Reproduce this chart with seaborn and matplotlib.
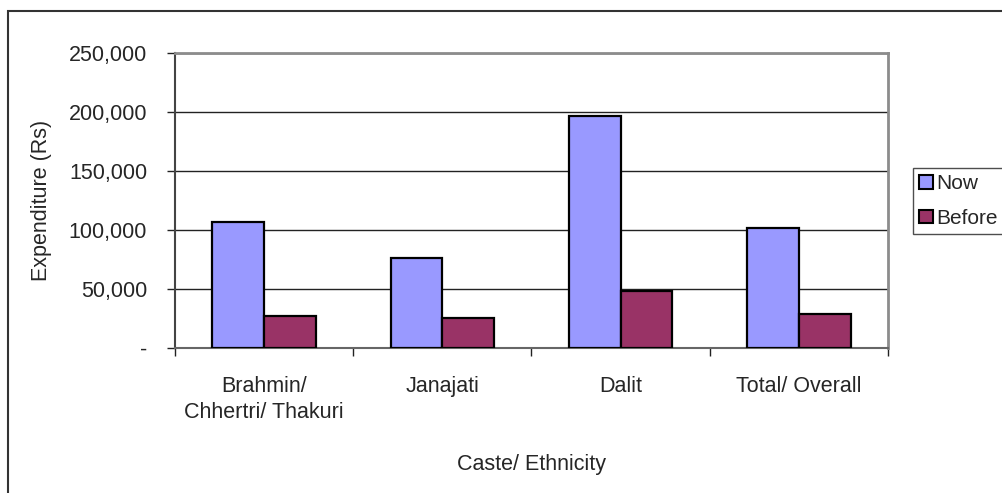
import matplotlib
matplotlib.use("Agg")
import matplotlib.pyplot as plt
from matplotlib import font_manager
from matplotlib.patches import Rectangle
from matplotlib.ticker import FixedLocator, FuncFormatter
import seaborn as sns
import pandas as pd

categories = ["Brahmin/\nChhertri/ Thakuri", "Janajati", "Dalit", "Total/ Overall"]
now_values = [107000, 75900, 196800, 101400]
before_values = [27500, 25800, 48400, 29200]
series_names = ["Now", "Before"]
y_ticks = [0, 50000, 100000, 150000, 200000, 250000]

sns.set_theme(style="white")

# Prefer a narrow sans if one is installed, else regular Liberation Sans
family, size = "Liberation Sans", 15.5
try:
    font_manager.findfont("Liberation Sans Narrow", fallback_to_default=False)
    family, size = "Liberation Sans Narrow", 17
except Exception:
    pass
plt.rcParams["font.family"] = [family, "DejaVu Sans"]
plt.rcParams["font.size"] = size

df = pd.DataFrame({
    "Caste": categories * 2,
    "Series": [series_names[0]] * len(categories) + [series_names[1]] * len(categories),
    "Expenditure": now_values + before_values,
})

fig = plt.figure(figsize=(10.03, 4.93), dpi=100)
ax = fig.add_axes([0.1745, 0.2941, 0.7108, 0.5984])

sns.barplot(data=df, x="Caste", y="Expenditure", hue="Series",
            palette=["#9999FF", "#993366"], saturation=1, width=0.58,
            edgecolor="black", linewidth=1.6, ax=ax, legend=True, zorder=3)

ax.set_ylim(0, 250000)
ax.set_xlim(-0.5, len(categories) - 0.5)
ax.yaxis.set_major_locator(FixedLocator(y_ticks))
ax.yaxis.set_major_formatter(FuncFormatter(lambda v, p: "-" if v == 0 else f"{int(v):,}"))
ax.grid(axis="y", color="#222222", linewidth=1.0, zorder=0)
ax.set_axisbelow(True)

# Category boundary ticks on the x axis
ax.set_xticks([i - 0.5 for i in range(len(categories) + 1)], minor=True)
ax.tick_params(axis="x", which="minor", direction="out", length=6, width=1.0,
               color="#222222", bottom=True)
ax.tick_params(axis="x", which="major", length=0, pad=20, labelsize=size)
ax.tick_params(axis="y", which="major", direction="out", length=6, width=1.0,
               color="#222222", left=True, pad=14, labelsize=size)
for lbl in ax.get_xticklabels():
    lbl.set_linespacing(1.35)

for side in ["top", "right"]:
    ax.spines[side].set_visible(True)
    ax.spines[side].set_color("#8c8c8c")
    ax.spines[side].set_linewidth(2.0)
ax.spines["left"].set_color("#444444")
ax.spines["left"].set_linewidth(1.5)
ax.spines["bottom"].set_color("#666666")
ax.spines["bottom"].set_linewidth(1.5)

ax.set_xlabel("Caste/ Ethnicity", fontsize=size, labelpad=22)
ax.set_ylabel("Expenditure (Rs)", fontsize=size, labelpad=12)

leg = ax.legend(loc="center left", bbox_to_anchor=(913 / 1003, 1 - 201 / 493),
                bbox_transform=fig.transFigure, frameon=True, fancybox=False,
                handlelength=0.65, handleheight=0.65, handletextpad=0.15,
                borderpad=0.3, borderaxespad=0, labelspacing=0.75,
                fontsize=size - 0.5)
leg.get_frame().set_edgecolor("#222222")
leg.get_frame().set_linewidth(1.0)
for h in leg.legend_handles:
    h.set_edgecolor("black")
    h.set_linewidth(1.5)

# Outer chart-area frame
fig.patches.append(Rectangle((8 / 1003, -0.05), 1.1, 1 - 11 / 493 + 0.05,
                             transform=fig.transFigure, fill=False,
                             edgecolor="#333333", linewidth=1.5))

fig.savefig("out.png", dpi=100)
